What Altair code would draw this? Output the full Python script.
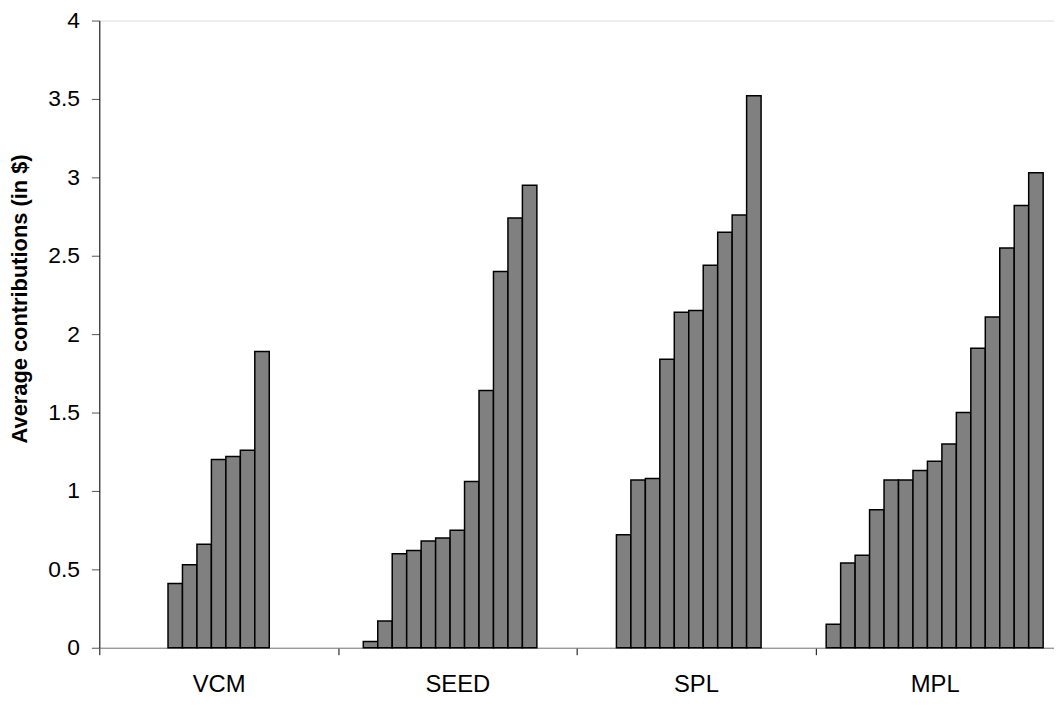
import altair as alt
import pandas as pd

# Data (sorted bars within each treatment)
groups = ["VCM", "SEED", "SPL", "MPL"]
vcm = [0.41, 0.53, 0.66, 1.20, 1.22, 1.26, 1.89]
seed = [0.04, 0.17, 0.60, 0.62, 0.68, 0.70, 0.75, 1.06, 1.64, 2.40, 2.74, 2.95]
spl = [0.72, 1.07, 1.08, 1.84, 2.14, 2.15, 2.44, 2.65, 2.76, 3.52]
mpl = [0.15, 0.54, 0.59, 0.88, 1.07, 1.07, 1.13, 1.19, 1.30, 1.50, 1.91, 2.11, 2.55, 2.82, 3.03]
y_ticks = [0, 0.5, 1, 1.5, 2, 2.5, 3, 3.5, 4]

series = [vcm, seed, spl, mpl]
n_slots = max(len(s) for s in series)

rows = []
for g, vals in zip(groups, series):
    start = (n_slots - len(vals)) // 2
    for i, v in enumerate(vals):
        rows.append({"group": g, "slot": start + i, "value": v})
df = pd.DataFrame(rows)

FONT = "Liberation Sans"

chart = alt.Chart(df).mark_bar(
    fill="#808080", stroke="#000000", strokeWidth=1.5
).encode(
    x=alt.X(
        "group:N",
        sort=groups,
        scale=alt.Scale(paddingInner=0, paddingOuter=0),
        axis=alt.Axis(
            title=None,
            labelAngle=0,
            tickBand="extent",
            domainColor="#808080",
            domainWidth=1,
            tickColor="#000000",
            tickSize=7,
            labelFont=FONT,
            labelFontSize=24,
            labelColor="#000000",
            labelPadding=18,
        ),
    ),
    xOffset=alt.XOffset(
        "slot:O",
        scale=alt.Scale(domain=list(range(n_slots)), paddingInner=0, paddingOuter=0.75),
    ),
    y=alt.Y(
        "value:Q",
        scale=alt.Scale(domain=[0, 4], nice=False),
        axis=alt.Axis(
            title="Average contributions (in $)",
            values=y_ticks,
            format="~g",
            grid=False,
            domainColor="#000000",
            domainWidth=1,
            tickColor="#555555",
            tickSize=8,
            labelFont=FONT,
            labelFontSize=23,
            labelColor="#000000",
            labelPadding=12,
            titleFont=FONT,
            titleFontSize=22,
            titleFontWeight="bold",
            titleColor="#000000",
            titleX=-68,
            titleY=280,
        ),
    ),
).properties(
    width=962,
    height=632,
    autosize=alt.AutoSizeParams(type="none"),
    padding={"left": 92, "top": 10, "right": 0, "bottom": 46},
).configure_view(
    stroke=None
).configure(
    background="#ffffff"
)

chart.save("out.html", embed_options={"renderer": "svg", "actions": False})
